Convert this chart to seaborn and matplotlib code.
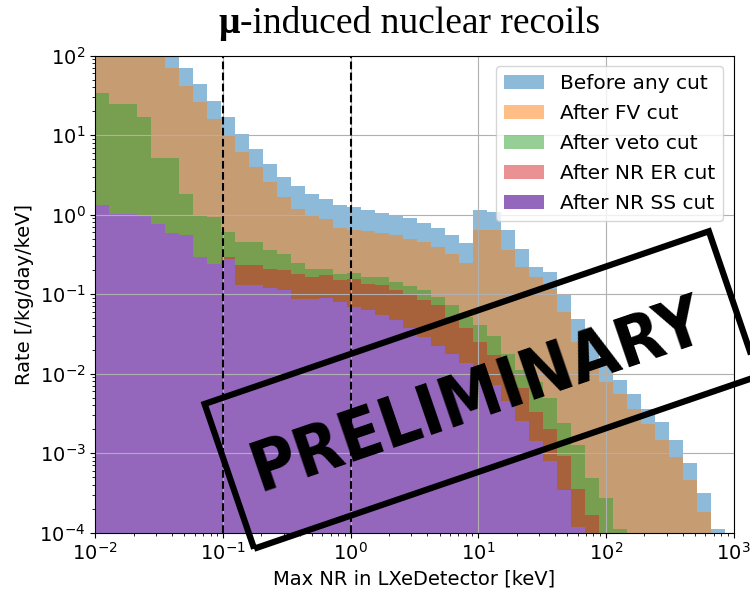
import numpy as np
import pandas as pd
import matplotlib
matplotlib.use("Agg")
import matplotlib.pyplot as plt
import seaborn as sns
from matplotlib.patches import Rectangle
from matplotlib import font_manager
from matplotlib.font_manager import FontProperties

# ---- data (rate per bin, [/kg/day/keV]); 45 log-spaced bins ----
log_bin_edges = np.linspace(-2.0, 2.9365, 46)
bin_centers = 10 ** ((log_bin_edges[:-1] + log_bin_edges[1:]) / 2)

before_any_cut = [300, 280, 250, 200, 160, 115, 71, 44, 27, 17,
                  10.4, 6.8, 4.4, 3.0, 2.3, 1.84, 1.56, 1.34, 1.25, 1.13,
                  1.06, 0.96, 0.91, 0.79, 0.67, 0.55, 0.44, 1.13, 1.07, 0.64,
                  0.37, 0.22, 0.19, 0.097, 0.048, 0.025, 0.0138, 0.0083, 0.0056, 0.0036,
                  0.00245, 0.00145, 0.00074, 0.00031, 0.000112]
after_fv_cut = [250, 220, 190, 160, 130, 71, 42, 26, 16, 9.9,
                6.2, 4.0, 2.6, 1.66, 1.19, 1.0, 0.89, 0.67, 0.64, 0.62,
                0.58, 0.55, 0.50, 0.45, 0.39, 0.32, 0.25, 0.64, 0.64, 0.355,
                0.22, 0.164, 0.117, 0.060, 0.025, 0.0141, 0.0079, 0.0056, 0.0036, 0.0023,
                0.00145, 0.00089, 0.00046, 0.00018, 0]
after_veto_cut = [34, 25, 25, 17, 5.2, 5.2, 1.84, 0.98, 0.93, 0.60,
                  0.45, 0.45, 0.355, 0.32, 0.25, 0.21, 0.21, 0.18, 0.186, 0.164,
                  0.164, 0.142, 0.126, 0.112, 0.092, 0.072, 0.051, 0.041, 0.030, 0.0178,
                  0.011, 0.0079, 0.0050, 0.0024, 0.00126, 0.00048, 0.00027, 0.000112, 0, 0,
                  0, 0, 0, 0, 0]
after_nr_er_cut = [1.31, 1.03, 1.03, 0.98, 0.77, 0.58, 0.55, 0.29, 0.24, 0.29,
                   0.23, 0.23, 0.21, 0.20, 0.18, 0.164, 0.172, 0.149, 0.155, 0.135,
                   0.129, 0.112, 0.097, 0.084, 0.072, 0.051, 0.038, 0.025, 0.017, 0.0095,
                   0.0065, 0.0033, 0.0020, 0.00093, 0.00035, 0.000166, 0, 0, 0, 0,
                   0, 0, 0, 0, 0]
after_nr_ss_cut = [1.31, 1.03, 1.03, 0.98, 0.77, 0.58, 0.55, 0.29, 0.24, 0.28,
                   0.129, 0.129, 0.120, 0.112, 0.088, 0.088, 0.089, 0.079, 0.069, 0.0625,
                   0.054, 0.047, 0.037, 0.029, 0.022, 0.0178, 0.0135, 0.0100, 0.0071, 0.0045,
                   0.0025, 0.0014, 0.00079, 0.00034, 0.000117, 0, 0, 0, 0, 0,
                   0, 0, 0, 0, 0]

labels = ["Before any cut", "After FV cut", "After veto cut",
          "After NR ER cut", "After NR SS cut"]
series = [before_any_cut, after_fv_cut, after_veto_cut, after_nr_er_cut, after_nr_ss_cut]
colors = ["tab:blue", "tab:orange", "tab:green", "tab:red", "tab:purple"]
alphas = [0.5, 0.5, 0.5, 0.5, 1.0]
cut_lines = [0.1, 1.0]

x_ticks = [1e-2, 1e-1, 1e0, 1e1, 1e2, 1e3]
y_ticks = [1e-4, 1e-3, 1e-2, 1e-1, 1e0, 1e1, 1e2]

fig = plt.figure(figsize=(7.5, 5.93), dpi=100)
ax = fig.add_axes([0.127, 0.102, 0.851, 0.804])

for lab, vals, col, al in zip(labels, series, colors, alphas):
    df = pd.DataFrame({"energy": bin_centers, "rate": np.asarray(vals, dtype=float)})
    sns.histplot(data=df, x="energy", weights="rate", bins=[float(b) for b in log_bin_edges],
                 log_scale=True, element="step", fill=True, color=col, alpha=al,
                 linewidth=0, antialiased=False, label=lab, ax=ax)

ax.set_yscale("log")
ax.set_xlim(1e-2, 1e3)
ax.set_ylim(1e-4, 1e2)
ax.set_xticks(x_ticks)
ax.set_yticks(y_ticks)
ax.tick_params(axis="both", which="major", labelsize=14)
ax.grid(True, which="major", color="#b0b0b0", linewidth=0.8)
for xv in cut_lines:
    ax.axvline(xv, color="black", linestyle="--", linewidth=1.5)

ax.set_xlabel("Max NR in LXeDetector [keV]", fontsize=14)
ax.set_ylabel("Rate [/kg/day/keV]", fontsize=14)
ax.legend(loc="upper right", fontsize=14.5, labelspacing=0.55)

# title with bold mu
t1 = fig.text(0.291, 0.944, "μ", fontsize=27, fontweight="bold",
              family="Liberation Serif", ha="left", va="baseline")
ax.annotate("-induced nuclear recoils", xy=(1, 0), xycoords=t1, fontsize=27,
            family="Liberation Serif", ha="left", va="bottom", annotation_clip=False)

# PRELIMINARY stamp: pick a bold condensed face if one is installed
def _is_bold(f):
    w = f.weight
    if isinstance(w, (int, float)):
        return w >= 600
    return str(w).lower() in ("bold", "heavy", "black", "semibold", "demibold", "extra bold")

def _is_cond(f):
    s = f.stretch
    nm = (f.name + " " + f.fname).lower()
    if "narrow" in nm or "condensed" in nm:
        return True
    if isinstance(s, (int, float)):
        return s < 100
    return "condensed" in str(s).lower()

cands = [f for f in font_manager.fontManager.ttflist if _is_bold(f) and _is_cond(f)
         and "italic" not in f.fname.lower() and "oblique" not in f.fname.lower()
         and f.style == "normal"]
pref = ["liberationsansnarrow-bold", "dejavusanscondensed-bold", "notosans-condensedbold",
        "roboto", "opensans"]
chosen = None
for p in pref:
    for f in cands:
        if p in f.fname.lower().replace("_", "").replace(" ", ""):
            chosen = f.fname
            break
    if chosen:
        break
if chosen is None and cands:
    chosen = cands[0].fname
if chosen:
    stamp_fp = FontProperties(fname=chosen)
else:
    stamp_fp = FontProperties(family="Liberation Sans", weight="bold")

# size the stamp text to the reference length (~475 px)
probe = fig.text(0, 0, "PRELIMINARY", fontproperties=stamp_fp, fontsize=50)
fig.canvas.draw()
probe_w = probe.get_window_extent().width
probe.remove()
stamp_size = 50 * 475.0 / probe_w

fig.text(0.637, 0.332, "PRELIMINARY", fontproperties=stamp_fp, fontsize=stamp_size,
         rotation=18.9, rotation_mode="anchor",
         ha="center", va="center", color="black", zorder=20)
cx, cy, w, h = 4.815, 2.03, 5.33, 1.53
rect = Rectangle((cx - w / 2, cy - h / 2), w, h, angle=18.9, rotation_point="center",
                 transform=fig.dpi_scale_trans, fill=False, edgecolor="black",
                 linewidth=4.5, zorder=20, clip_on=False)
fig.add_artist(rect)

fig.savefig("out.png", dpi=100)
